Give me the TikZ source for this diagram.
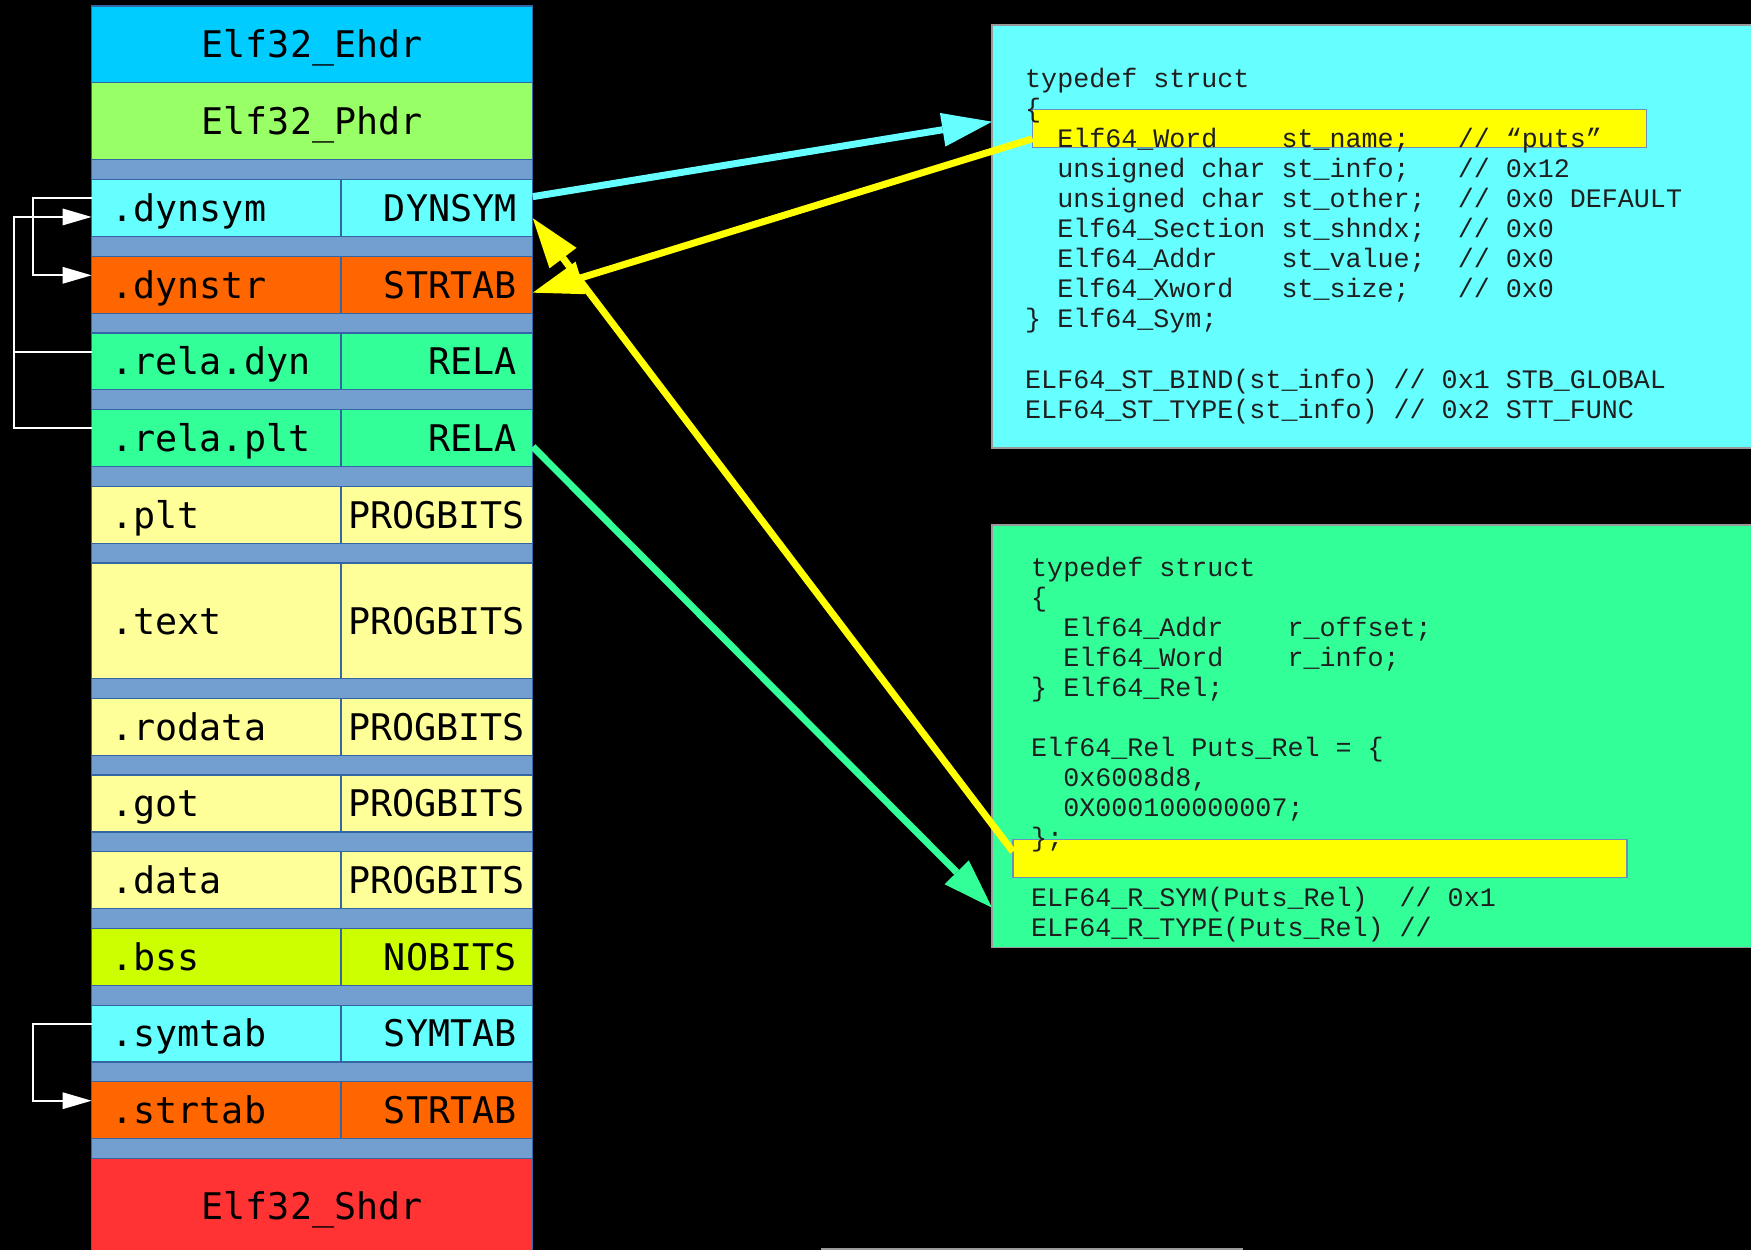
\documentclass[tikz,border=0pt]{standalone}
\usepackage{fontspec}
\newfontfamily\stackfont{DejaVu Sans Mono}
\newfontfamily\codefont{Liberation Mono}
\usetikzlibrary{arrows.meta,calc}
\definecolor{ehdrc}{HTML}{00CCFF}
\definecolor{phdrc}{HTML}{99FF66}
\definecolor{gapc}{HTML}{729FCF}
\definecolor{bordc}{HTML}{3465A4}
\definecolor{cyanc}{HTML}{66FFFF}
\definecolor{orangec}{HTML}{FF6600}
\definecolor{relac}{HTML}{33FF99}
\definecolor{progc}{HTML}{FFFF99}
\definecolor{bssc}{HTML}{CCFF00}
\definecolor{shdrc}{HTML}{FF3333}
\definecolor{yelc}{HTML}{FFFF00}
\definecolor{boxbord}{HTML}{9A9A9A}
\definecolor{hlbord}{HTML}{6C8EBF}
\newcommand\secrow[7]{%
  \node[namecell, fill=#4, minimum height=#3] (#1N) at (91.5,#2) {#5};
  \node[#7, fill=#4, minimum height=#3] (#1T) at (341,#2) {#6};
}
\tikzset{
  cell/.style={draw=bordc, line width=1.2pt, inner ysep=0pt, text height=26.7pt, text depth=0pt,
    font=\stackfont\fontsize{36.7}{40}\selectfont, anchor=north west, outer sep=0pt, text=black},
  namecell/.style={cell, text width=209.5pt, inner xsep=20pt, align=left},
  typecell/.style={cell, text width=159.2pt, inner xsep=16.3pt, align=right},
  progcell/.style={cell, text width=177.4pt, inner xsep=7.2pt, align=left},
  hdrcell/.style={cell, minimum width=441.3pt, inner xsep=0pt},
  codebox/.style={draw=boxbord, line width=1.5pt, anchor=north west, inner sep=0pt, outer sep=0pt},
  hlbox/.style={draw=hlbord, line width=1.2pt, fill=yelc, anchor=north west, inner sep=0pt, outer sep=0pt},
  code/.style={font=\codefont\fontsize{26.7}{30}\selectfont, inner sep=0pt, anchor=base west, text=black!88},
  bigconn/.style={line width=7pt, -{Triangle[length=50pt,width=34pt,line width=0pt]}},
  wconn/.style={draw=white, line width=2pt},
  warrow/.style={wconn, -{Triangle[length=29pt,width=17pt,line width=0pt]}},
}
\begin{document}
\begin{tikzpicture}[x=1pt,y=-1pt]
\useasboundingbox (0,0) rectangle (1751,1250);
\fill[black] (0,0) rectangle (1751,1250);

% ---- section stack ----
\fill[gapc, draw=bordc, line width=1.2pt] (91.5,159.5) rectangle (532.8,1158.5);
\node[hdrcell, fill=ehdrc, minimum height=76.7pt] (ehdr) at (91.5,6) {Elf32\_Ehdr};
\node[hdrcell, fill=phdrc, minimum height=76.8pt] (phdr) at (91.5,82.7) {Elf32\_Phdr};
\secrow{dynsym}{179.5}{56.9pt}{cyanc}{.dynsym}{DYNSYM}{typecell}
\secrow{dynstr}{256.2}{56.9pt}{orangec}{.dynstr}{STRTAB}{typecell}
\secrow{reladyn}{332.9}{56.9pt}{relac}{.rela.dyn}{RELA}{typecell}
\secrow{relaplt}{409.6}{56.9pt}{relac}{.rela.plt}{RELA}{typecell}
\secrow{plt}{486.3}{56.9pt}{progc}{.plt}{PROGBITS}{progcell}
\secrow{text}{563.0}{115.5pt}{progc}{.text}{PROGBITS}{progcell}
\secrow{rodata}{698.3}{56.9pt}{progc}{.rodata}{PROGBITS}{progcell}
\secrow{got}{775.0}{56.9pt}{progc}{.got}{PROGBITS}{progcell}
\secrow{data}{851.7}{56.9pt}{progc}{.data}{PROGBITS}{progcell}
\secrow{bss}{928.4}{56.9pt}{bssc}{.bss}{NOBITS}{typecell}
\secrow{symtab}{1005.1}{56.9pt}{cyanc}{.symtab}{SYMTAB}{typecell}
\secrow{strtab}{1081.8}{56.9pt}{orangec}{.strtab}{STRTAB}{typecell}
\node[hdrcell, fill=shdrc, minimum height=95pt] (shdr) at (91.5,1158.5) {Elf32\_Shdr};

% ---- Elf64_Sym box ----
\node[codebox, fill=cyanc, minimum width=775pt, minimum height=423pt] (symbox) at (992,25) {};
\node[hlbox, minimum width=613.6pt, minimum height=38.4pt] (hla) at (1032.6,109.3) {};
\node[code] (c1) at (1025,87) {typedef~struct};
\node[code] (c2) at (1025,117.1) {\{};
\node[code] (c3) at (1025,147.2) {~~Elf64\_Word~~~~st\_name;~~~//~“puts”};
\node[code] (c4) at (1025,177.3) {~~unsigned~char~st\_info;~~~//~0x12};
\node[code] (c5) at (1025,207.4) {~~unsigned~char~st\_other;~~//~0x0~DEFAULT};
\node[code] (c6) at (1025,237.5) {~~Elf64\_Section~st\_shndx;~~//~0x0};
\node[code] (c7) at (1025,267.6) {~~Elf64\_Addr~~~~st\_value;~~//~0x0};
\node[code] (c8) at (1025,297.7) {~~Elf64\_Xword~~~st\_size;~~~//~0x0};
\node[code] (c9) at (1025,327.8) {\}~Elf64\_Sym;};
\node[code] (c10) at (1025,388) {ELF64\_ST\_BIND(st\_info)~//~0x1~STB\_GLOBAL};
\node[code] (c11) at (1025,418.1) {ELF64\_ST\_TYPE(st\_info)~//~0x2~STT\_FUNC};

% ---- Elf64_Rel box ----
\node[codebox, fill=relac, minimum width=775pt, minimum height=422.3pt] (relbox) at (992,525) {};
\node[hlbox, minimum width=614.1pt, minimum height=38pt] (hlb) at (1012.9,839.3) {};
\node[code] (r1) at (1031,576) {typedef~struct};
\node[code] (r2) at (1031,606.1) {\{};
\node[code] (r3) at (1031,636.1) {~~Elf64\_Addr~~~~r\_offset;};
\node[code] (r4) at (1031,666.2) {~~Elf64\_Word~~~~r\_info;};
\node[code] (r5) at (1031,696.3) {\}~Elf64\_Rel;};
\node[code] (r6) at (1031,756.4) {Elf64\_Rel~Puts\_Rel~=~\{};
\node[code] (r7) at (1031,786.5) {~~0x6008d8,};
\node[code] (r8) at (1031,816.6) {~~0X000100000007;};
\node[code] (r9) at (1031,846.6) {\};};
\node[code] (r10) at (1031,906.8) {ELF64\_R\_SYM(Puts\_Rel)~~//~0x1};
\node[code] (r11) at (1031,936.8) {ELF64\_R\_TYPE(Puts\_Rel)~//};

% ---- white link connectors ----
\draw[warrow] ([yshift=10.3pt]dynsymN.west) -- ++(-58.6,0) |- ([yshift=9.35pt]dynstrN.west);
\draw[warrow] ([yshift=9.75pt]relapltN.west) -- ++(-77.2,0) |- ([yshift=-9pt]dynsymN.west);
\draw[wconn] ([yshift=9.65pt]reladynN.west) -- ++(-77.2,0);
\draw[warrow] ([yshift=9.55pt]symtabN.west) -- ++(-58.6,0) |- ([yshift=9.55pt]strtabN.west);

% ---- big arrows ----
\draw[bigconn, draw=cyanc, fill=cyanc] ([yshift=11.3pt]dynsymT.east) -- ([yshift=-96.7pt]symbox.north west);
\draw[bigconn, draw=relac, fill=relac] ([yshift=-8.65pt]relapltT.east) -- ([yshift=-382.7pt]relbox.north west);
\draw[bigconn, draw=yelc, fill=yelc] ([yshift=-10.2pt]hla.west) -- ([yshift=-8pt]dynstrT.east);
\draw[bigconn, draw=yelc, fill=yelc] ([yshift=6.6pt]hlb.west) -- ([yshift=-10.3pt]dynsymT.east);

% ---- footer rule ----
\draw[boxbord, line width=2pt] (821,1248.6) -- (1243,1248.6);
\end{tikzpicture}
\end{document}
